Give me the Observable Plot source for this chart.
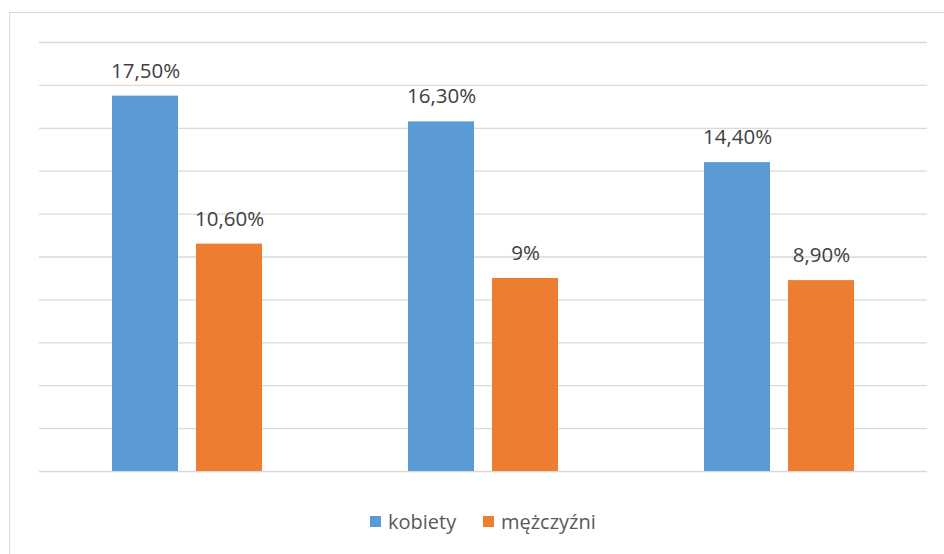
<!DOCTYPE html>
<html><head><meta charset="utf-8">
<script src="https://cdn.jsdelivr.net/npm/d3@7"></script>
<script src="https://cdn.jsdelivr.net/npm/@observablehq/plot@0.6"></script>
<style>
body{margin:0;background:#fff;width:944px;height:554px;overflow:hidden;position:relative;font-family:"Open Sans",sans-serif;}
#frame{position:absolute;left:9px;top:12px;width:1000px;height:1000px;border:1px solid #d9d9d9;box-sizing:border-box;}
#chart{position:absolute;left:0;top:0;}
#legend{position:absolute;left:0;top:509px;width:944px;height:26px;font-size:20px;color:#595959;}
.sw{position:absolute;top:7px;width:11px;height:11px;}
.lt{position:absolute;top:0;line-height:26px;}
</style></head>
<body>
<div id="frame"></div>
<div id="chart"></div>
<div id="legend"></div>
<script>
const groups = ["1", "2", "3"];
const series = ["kobiety", "mężczyźni"];
const kobiety = [17.5, 16.3, 14.4];
const mezczyzni = [10.6, 9.0, 8.9];
const labelsK = ["17,50%", "16,30%", "14,40%"];
const labelsM = ["10,60%", "9%", "8,90%"];
const colors = ["#5B9BD5", "#ED7D31"];
const yTicks = [0, 2, 4, 6, 8, 10, 12, 14, 16, 18, 20];

const data = [];
groups.forEach((g, i) => {
  data.push({group: g, series: series[0], value: kobiety[i], label: labelsK[i]});
  data.push({group: g, series: series[1], value: mezczyzni[i], label: labelsM[i]});
});

const chart = Plot.plot({
  width: 944,
  height: 500,
  marginLeft: 38,
  marginRight: 16,
  marginTop: 42,
  marginBottom: 29,
  style: {background: "transparent", fontFamily: "Open Sans, sans-serif"},
  fx: {domain: groups, padding: 0, axis: null},
  x: {domain: series, paddingInner: 0.214, paddingOuter: 0.86, axis: null},
  y: {domain: [0, 20], axis: null},
  color: {domain: series, range: colors},
  marks: [
    Plot.gridY(yTicks, {stroke: "#d9d9d9", strokeOpacity: 1, strokeWidth: 1.3}),
    Plot.barY(data, {fx: "group", x: "series", y: "value", fill: "series"}),
    Plot.text(data, {fx: "group", x: "series", y: "value", text: "label", dy: -25, fontSize: 20.5, fill: "#404040"})
  ]
});
document.getElementById("chart").appendChild(chart);

const legend = document.getElementById("legend");
const lx = [370, 483];
series.forEach((s, i) => {
  const sw = document.createElement("div");
  sw.className = "sw"; sw.style.left = lx[i] + "px"; sw.style.background = colors[i];
  legend.appendChild(sw);
  const t = document.createElement("div");
  t.className = "lt"; t.style.left = (lx[i] + 18) + "px"; t.textContent = s;
  legend.appendChild(t);
});
</script>
</body></html>
